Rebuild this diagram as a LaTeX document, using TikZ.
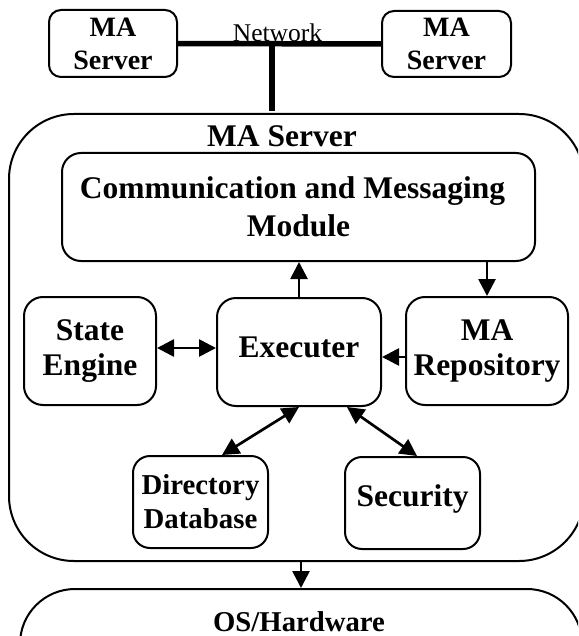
\documentclass[tikz,border=0pt]{standalone}
\usepackage{fontspec}
\setmainfont{Liberation Serif}
\usetikzlibrary{arrows.meta,calc}

\tikzset{
  box/.style={draw, line width=2pt, rounded corners=19pt, inner sep=0pt, align=center},
  smallbox/.style={draw, line width=2pt, rounded corners=12pt, inner sep=0pt, align=center},
  bigtext/.style={font=\fontsize{31.5}{35}\selectfont\bfseries},
  midtext/.style={font=\fontsize{28.8}{34}\selectfont\bfseries},
  toptext/.style={font=\fontsize{28}{33}\selectfont\bfseries},
  netline/.style={line width=5.5pt},
  tip/.tip={Triangle[length=17pt 0 0,width=17pt 0 0]},
  arr/.style={line width=2.7pt, -tip},
  dbl/.style={line width=2.7pt, tip-tip}
}

\begin{document}
\begin{tikzpicture}[x=1pt,y=-1pt]
  \useasboundingbox (0,0) rectangle (578,636);
  \clip (0,0) rectangle (578,636);

  % remote servers on the network
  \node[smallbox, toptext, minimum width=128pt, minimum height=67pt] (ma1) at (113,43.5) {MA\\Server};
  \node[smallbox, toptext, minimum width=129pt, minimum height=66pt] (ma2) at (446.5,44) {MA\\Server};
  \draw[netline] (ma1) -- (ma2);
  \node[anchor=base, font=\fontsize{25.5}{28}\selectfont, inner sep=0pt] (netlabel) at (277.5,42) {Network};

  % local server and its modules
  \node[draw, line width=2pt, rounded corners=65pt, minimum width=575pt, minimum height=447pt] (srv) at (296.5,337.5) {};
  \coordinate (tap) at (272,43);
  \draw[netline] (tap) -- ([yshift=2pt]tap |- srv.north);
  \node[anchor=base, bigtext, inner sep=0pt] (srvtitle) at (282,147) {MA Server};

  \node[box, font=\fontsize{31.5}{38}\selectfont\bfseries, minimum width=473pt, minimum height=108pt] (comm) at (298.5,207) {Communication and Messaging\hspace*{12pt}\\Module};
  \node[box, bigtext, minimum width=132pt, minimum height=108pt] (se) at (90,351) {State\\Engine};
  \node[box, bigtext, text depth=9.3pt, minimum width=164pt, minimum height=108pt] (exe) at (299,352) {Executer};
  \node[box, bigtext, minimum width=162pt, minimum height=108pt] (rep) at (487,351) {MA\\Repository};
  \node[box, midtext, rounded corners=17pt, minimum width=135pt, minimum height=92pt] (dir) at (200.5,502) {Directory\\Database};
  \node[box, bigtext, rounded corners=17pt, text depth=15.7pt, minimum width=135pt, minimum height=92pt] (sec) at (412.5,503) {Security};

  % operating system layer
  \node[draw, line width=2pt, rounded corners=55pt, minimum width=562pt, minimum height=131pt] (os) at (301,654.5) {};
  \node[anchor=base, font=\fontsize{28.7}{32}\selectfont\bfseries, inner sep=0pt] (ostitle) at (299,631) {OS/Hardware};

  % connectors
  \draw[arr] (exe.north) -- (exe.north |- comm.south);
  \draw[arr] (rep.north |- comm.south) -- (rep.north);
  \draw[dbl] ([yshift=3pt]se.east) -- ([yshift=3pt]se.east -| exe.west);
  \draw[arr] ([yshift=-6pt]rep.west) -- ([yshift=-6pt]rep.west -| exe.east);
  \draw[dbl] (exe.south) -- ([xshift=21.5pt]dir.north);
  \draw[dbl] ([xshift=48pt]exe.south) -- ([xshift=4.5pt]sec.north);
  \draw[arr] (os.north |- srv.south) -- (os.north);
\end{tikzpicture}
\end{document}
